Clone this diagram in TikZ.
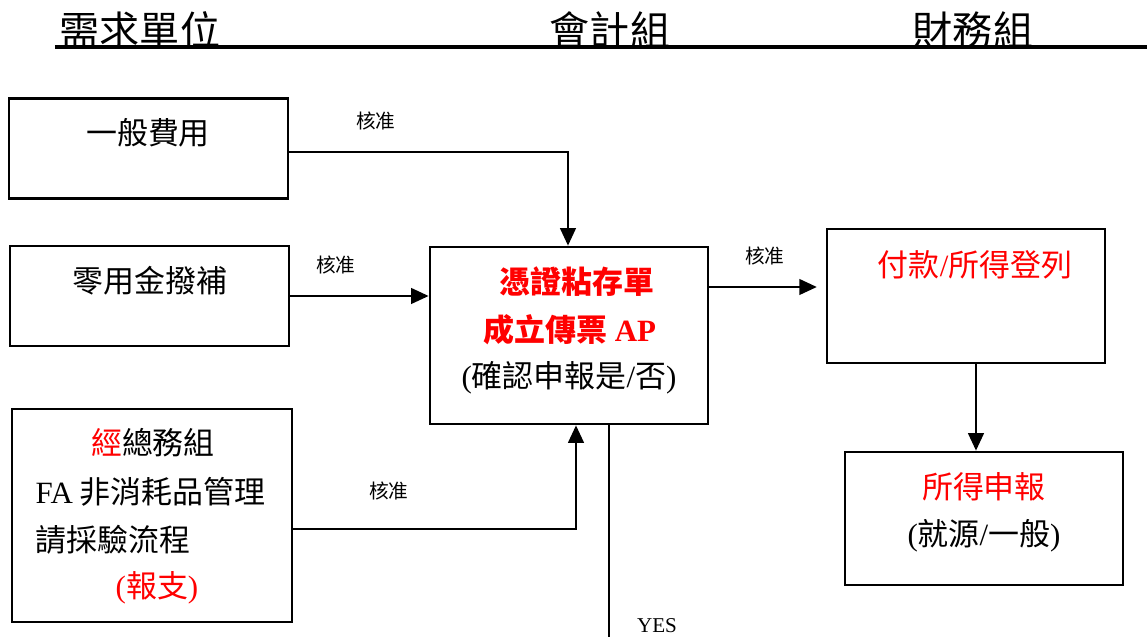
\documentclass[tikz,border=0pt]{standalone}
\usepackage{fontspec}
\newfontfamily\cjk{Noto Sans CJK TC}
\newfontfamily\tms{Liberation Serif}
\usetikzlibrary{arrows.meta}
\begin{document}
\begin{tikzpicture}[x=0.01cm,y=-0.01cm,inner sep=0pt,
  box/.style={draw,line width=0.7pt},
  arr/.style={line width=0.8pt,-{Triangle[length=5pt,width=4.4pt]}},
  big/.style={font=\cjk\fontsize{8.8}{10}\selectfont},
  head/.style={font=\cjk\fontsize{11.4}{12}\selectfont},
  small/.style={font=\cjk\fontsize{5.6}{6}\selectfont},
  hot/.style={big,text=red},
  hotb/.style={font=\cjk\bfseries\fontsize{8.8}{10}\selectfont,text=red}]
\useasboundingbox (0,0) rectangle (1147,637);
\node[head] (req) at (140,30) {需求單位};
\node[head] (acct) at (610,30) {會計組};
\node[head] (fin) at (973,30) {財務組};
\coordinate (h1) at (55,47);
\coordinate (h2) at (1147,47);
\draw[line width=1.1pt] (h1) -- (h2);
\node[box,minimum width=2.79cm,minimum height=1cm] (gen) at (148.5,148.5) {};
\node[box,minimum width=2.79cm,minimum height=1cm] (petty) at (149.5,296) {};
\node[box,minimum width=2.8cm,minimum height=2.13cm] (ga) at (152,515.5) {};
\node[box,minimum width=2.78cm,minimum height=1.77cm] (acc) at (569,335.5) {};
\node[box,minimum width=2.78cm,minimum height=1.34cm] (pay) at (966,296) {};
\node[box,minimum width=2.78cm,minimum height=1.33cm] (tax) at (984,518.5) {};
\node[big] (gent) at (148,133) {一般費用};
\node[big] (pettt) at (150,281) {零用金撥補};
\node[big] (ga1) at (153,443) {\textcolor{red}{經}總務組};
\node[big,anchor=west] (ga2) at (35,492) {{\tms FA} 非消耗品管理};
\node[big,anchor=west] (ga3) at (35,540) {請採驗流程};
\node[hot] (ga4) at (157,588) {{\tms(}報支{\tms)}};
\node[hotb] (acc1) at (577,282) {憑證粘存單};
\node[hotb] (acc2) at (570,330) {成立傳票 {\tms\bfseries AP}};
\node[big] (acc3) at (569,378) {{\tms(}確認申報是{\tms/}否{\tms)}};
\node[hot] (pay1) at (975,265) {付款{\tms/}所得登列};
\node[hot] (tax1) at (984,487) {所得申報};
\node[big] (tax2) at (984,536) {{\tms(}就源{\tms/}一般{\tms)}};
\node[small] (ok1) at (376,121) {核准};
\node[small] (ok2) at (336,265) {核准};
\node[small] (ok3) at (389,491) {核准};
\node[small] (ok4) at (765,256) {核准};
\node[font=\tms\fontsize{6}{7}\selectfont] (yes) at (657,626) {YES};
\coordinate (g1) at (568,152);
\coordinate (g2) at (576,529);
\coordinate (g3) at (708,287);
\coordinate (g4) at (976,0);
\coordinate (g5) at (609,637);
\draw[arr] (gen.east |- g1) -| (acc.north -| g1);
\draw[arr] (petty.east) -- (petty.east -| acc.west);
\draw[arr] (ga.east |- g2) -| (acc.south -| g2);
\draw[arr,shorten >=2.5pt] (acc.east |- g3) -- (pay.west |- g3);
\draw[arr] (pay.south -| g4) -- (tax.north -| g4);
\draw[line width=0.8pt] (acc.south -| g5) -- (g5);
\end{tikzpicture}
\end{document}
